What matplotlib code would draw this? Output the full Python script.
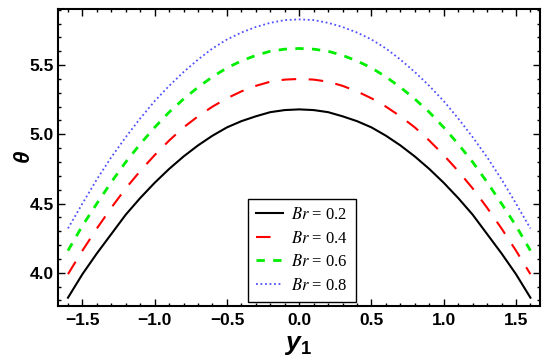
import numpy as np
import matplotlib
matplotlib.use('Agg')
import matplotlib.pyplot as plt
from matplotlib.ticker import MultipleLocator

plt.rcParams['mathtext.fontset'] = 'custom'
plt.rcParams['mathtext.rm'] = 'Liberation Sans'
plt.rcParams['mathtext.bf'] = 'Liberation Sans:bold'
plt.rcParams['mathtext.it'] = 'Liberation Sans:italic'
plt.rcParams['mathtext.bfit'] = 'Liberation Sans:italic:bold'

y1 = [-1.6, -1.5, -1.4, -1.3, -1.2, -1.1, -1.0, -0.9, -0.8, -0.7, -0.6, -0.5, -0.4, -0.3, -0.2, -0.1,
      0.0, 0.1, 0.2, 0.3, 0.4, 0.5, 0.6, 0.7, 0.8, 0.9, 1.0, 1.1, 1.2, 1.3, 1.4, 1.5, 1.6]

theta_02 = [3.82, 3.99, 4.14, 4.28, 4.42, 4.54, 4.65, 4.75, 4.84, 4.92, 4.99, 5.05, 5.095, 5.13, 5.16, 5.175,
            5.18, 5.175, 5.16, 5.13, 5.095, 5.05, 4.99, 4.92, 4.84, 4.75, 4.65, 4.54, 4.42, 4.28, 4.14, 3.99, 3.82]
theta_04 = [3.99, 4.16, 4.32, 4.47, 4.61, 4.735, 4.85, 4.955, 5.05, 5.13, 5.20, 5.26, 5.31, 5.35, 5.38, 5.395,
            5.40, 5.395, 5.38, 5.35, 5.31, 5.26, 5.20, 5.13, 5.05, 4.955, 4.85, 4.735, 4.61, 4.47, 4.32, 4.16, 3.99]
theta_06 = [4.16, 4.34, 4.50, 4.655, 4.80, 4.93, 5.05, 5.16, 5.255, 5.34, 5.415, 5.48, 5.53, 5.57, 5.60, 5.615,
            5.62, 5.615, 5.60, 5.57, 5.53, 5.48, 5.415, 5.34, 5.255, 5.16, 5.05, 4.93, 4.80, 4.655, 4.50, 4.34, 4.16]
theta_08 = [4.32, 4.50, 4.675, 4.835, 4.98, 5.115, 5.24, 5.35, 5.45, 5.54, 5.62, 5.685, 5.735, 5.775, 5.805, 5.825,
            5.83, 5.825, 5.805, 5.775, 5.735, 5.685, 5.62, 5.54, 5.45, 5.35, 5.24, 5.115, 4.98, 4.835, 4.675, 4.50, 4.32]

labels = [r'$Br$ = 0.2', r'$Br$ = 0.4', r'$Br$ = 0.6', r'$Br$ = 0.8']

fig = plt.figure(figsize=(5.5, 3.6), dpi=100)
ax = fig.add_axes([0.106, 0.15, 0.876, 0.825])

ax.plot(y1, theta_02, color='black', lw=1.5, label=labels[0])
ax.plot(y1, theta_04, color='#ff0000', lw=1.5, dashes=(7, 6), label=labels[1])
ax.plot(y1, theta_06, color='#00ee00', lw=2.0, dashes=(3, 3), label=labels[2])
ax.plot(y1, theta_08, color='#5050ff', lw=1.3, dashes=(1, 1.5), label=labels[3])

ax.set_xlim(-1.667, 1.667)
ax.set_ylim(3.76, 5.905)
ax.xaxis.set_major_locator(MultipleLocator(0.5))
ax.xaxis.set_minor_locator(MultipleLocator(0.1))
ax.yaxis.set_major_locator(MultipleLocator(0.5))
ax.yaxis.set_minor_locator(MultipleLocator(0.1))
ax.tick_params(which='both', direction='in', top=True, right=True, width=1.0)
ax.tick_params(which='major', length=5, labelsize=12.5)
ax.tick_params(axis='x', which='major', pad=5)
ax.tick_params(axis='y', which='major', pad=3)
ax.tick_params(which='minor', length=2.5)
for lab in ax.get_xticklabels() + ax.get_yticklabels():
    lab.set_fontweight('bold')
    lab.set_family('Liberation Sans')
for s in ax.spines.values():
    s.set_linewidth(1.5)

ax.set_xlabel(r'$\mathbfit{y}_\mathbf{1}$', fontsize=19)
ax.set_ylabel(r'$\mathbfit{\theta}$', fontsize=16, rotation=90)
ax.xaxis.set_label_coords(0.497, -0.085)
ax.yaxis.set_label_coords(-0.05, 0.5)

leg = ax.legend(loc='lower left', bbox_to_anchor=(0.394, 0.013), fancybox=False, edgecolor='black',
                framealpha=1, prop={'family': 'Liberation Serif', 'size': 12}, handlelength=1.6,
                borderpad=0.5, labelspacing=0.45, handletextpad=0.45, borderaxespad=0)
leg.get_frame().set_linewidth(1.0)
for t in leg.get_texts():
    t.set_math_fontfamily('stix')

fig.savefig('out.png', dpi=100)
